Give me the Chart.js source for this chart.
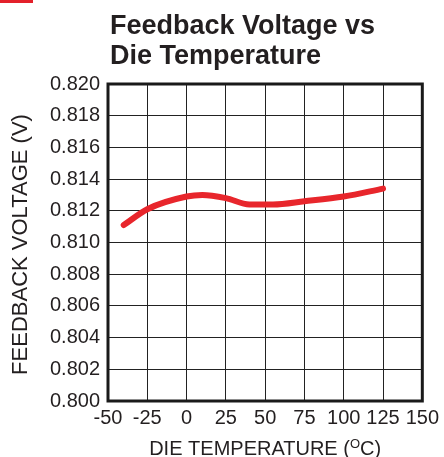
<!DOCTYPE html>
<html>
<head>
<meta charset="utf-8">
<script src="https://cdn.jsdelivr.net/npm/chart.js@4/dist/chart.umd.min.js"></script>
<style>
  html, body { margin: 0; padding: 0; background: #fff; }
  #wrap { width: 444px; height: 457px; position: relative; }
</style>
</head>
<body>
<div id="wrap"><canvas id="myChart"></canvas></div>
<script>
// values
const temps = [-40, -25, 0, 10, 25, 40, 55, 75, 100, 125];
const voltages = [0.8111, 0.8121, 0.8129, 0.8130, 0.8128, 0.8124, 0.8124, 0.8126, 0.8129, 0.8134];
const xTicks = [-50, -25, 0, 25, 50, 75, 100, 125, 150];
const yTicks = [0.800, 0.802, 0.804, 0.806, 0.808, 0.810, 0.812, 0.814, 0.816, 0.818, 0.820];

const titleLines = ["Feedback Voltage vs", "Die Temperature"];
const yTitle = "FEEDBACK VOLTAGE (V)";
const xTitle = ["DIE TEMPERATURE (", "O", "C)"];

const fontFamily = "'Liberation Sans', Arial, sans-serif";
const textColor = "#231f20";

const decorations = {
    id: "decorations",
    afterDraw: (chart) => {
        const ctx = chart.ctx;
        const area = chart.chartArea;
        ctx.save();

        // frame round the plot
        ctx.strokeStyle = "#1a1a1a";
        ctx.lineWidth = 3;
        ctx.strokeRect(area.left, area.top, area.right - area.left, area.bottom - area.top);

        // small red mark in the corner
        ctx.fillStyle = "#e3202a";
        ctx.fillRect(0, 0, 33, 3);

        // title
        ctx.fillStyle = textColor;
        ctx.font = "bold 27px " + fontFamily;
        ctx.textAlign = "left";
        ctx.textBaseline = "alphabetic";
        ctx.fillText(titleLines[0], 110, 34);
        ctx.fillText(titleLines[1], 110, 64);

        // y axis title
        ctx.font = "22px " + fontFamily;
        ctx.save();
        ctx.translate(27, (area.top + area.bottom) / 2 + 2);
        ctx.rotate(-Math.PI / 2);
        ctx.textAlign = "center";
        ctx.fillText(yTitle, 0, 0);
        ctx.restore();

        // x axis title with raised O
        const big = "20px " + fontFamily;
        const small = "13px " + fontFamily;
        ctx.font = big;
        const w1 = ctx.measureText(xTitle[0]).width;
        const w3 = ctx.measureText(xTitle[2]).width;
        ctx.font = small;
        const w2 = ctx.measureText(xTitle[1]).width;
        let x = (area.left + area.right) / 2 - (w1 + w2 + w3) / 2;
        const base = 455;
        ctx.textAlign = "left";
        ctx.font = big;
        ctx.fillText(xTitle[0], x, base);
        x += w1;
        ctx.font = small;
        ctx.fillText(xTitle[1], x, base - 7);
        x += w2;
        ctx.font = big;
        ctx.fillText(xTitle[2], x, base);

        ctx.restore();
    }
};

const ctx = document.getElementById("myChart").getContext("2d");
const myChart = new Chart(ctx, {
    type: "line",
    data: {
        datasets: [{
            data: temps.map((t, i) => ({ x: t, y: voltages[i] })),
            borderColor: "#e8262c",
            borderWidth: 6,
            borderCapStyle: "round",
            borderJoinStyle: "round",
            pointRadius: 0,
            cubicInterpolationMode: "monotone",
        }],
    },
    options: {
        responsive: true,
        maintainAspectRatio: false,
        animation: false,
        layout: { padding: { top: 84, right: 17, left: 0, bottom: 0 } },
        plugins: {
            legend: { display: false },
            tooltip: { enabled: false },
        },
        scales: {
            x: {
                type: "linear",
                min: -50,
                max: 150,
                afterBuildTicks: (scale) => { scale.ticks = xTicks.map(v => ({ value: v })); },
                afterFit: (scale) => { scale.height = 56; },
                grid: { color: "#222", lineWidth: 1, drawTicks: false },
                border: { display: false },
                ticks: {
                    autoSkip: false,
                    maxRotation: 0,
                    padding: 5,
                    color: textColor,
                    font: { family: fontFamily, size: 20 },
                    callback: (v) => String(v),
                },
            },
            y: {
                min: 0.8,
                max: 0.82,
                afterBuildTicks: (scale) => { scale.ticks = yTicks.map(v => ({ value: v })); },
                afterFit: (scale) => { scale.width = 108; },
                grid: { color: "#222", lineWidth: 1, drawTicks: false },
                border: { display: false },
                ticks: {
                    padding: 8,
                    color: textColor,
                    font: { family: fontFamily, size: 20 },
                    callback: (v) => v.toFixed(3),
                },
            },
        },
    },
    plugins: [decorations],
});
</script>
</body>
</html>
